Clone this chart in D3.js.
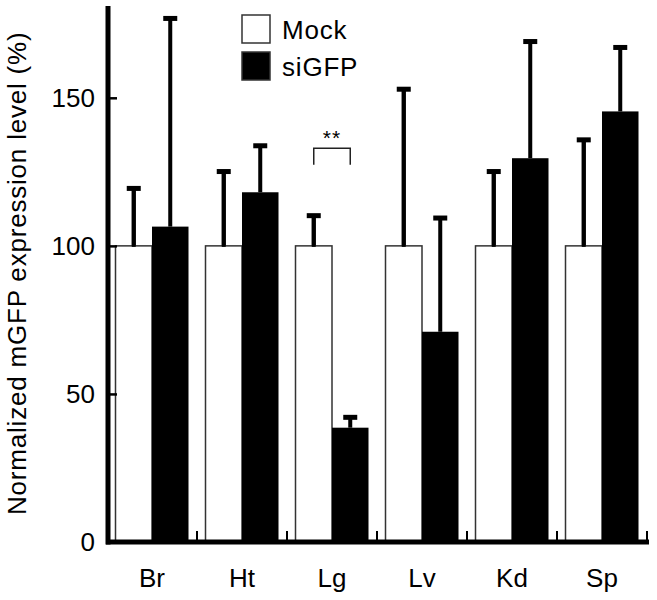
<!DOCTYPE html>
<html>
<head>
<meta charset="utf-8">
<script src="https://cdn.jsdelivr.net/npm/d3@7"></script>
<style>
  body { margin: 0; background: #fff; }
  svg { font-family: 'Liberation Sans', Arial, sans-serif; }
</style>
</head>
<body>
<svg id="chart" width="657" height="600"></svg>
<script>
// tissues and measured values (mock is the 100% reference)
const tissues = ['Br', 'Ht', 'Lg', 'Lv', 'Kd', 'Sp'];
const groups = ['Mock', 'siGFP'];
const mockMean = [100, 100, 100, 100, 100, 100];
const mockErr = [119.4, 125.1, 110.2, 152.9, 125.1, 135.8];
const sigfpMean = [106.5, 118.1, 38.6, 71.0, 129.6, 145.4];
const sigfpErr = [176.8, 133.8, 42.1, 109.4, 169.0, 167.0];
const yTicks = [0, 50, 100, 150];
const significance = [{ tissue: 'Lg', label: '**', top: 133, bottom: 127.4 }];

const svg = d3.select('#chart');

const x = d3.scaleBand().domain(tissues).range([107, 647]);
const x1 = d3.scaleBand().domain(groups).range([8.5, x.bandwidth() - 8.5]);
const y = d3.scaleLinear().domain([0, 181]).range([542, 6]);

const rows = tissues.map((t, i) => ({
  tissue: t,
  values: [
    { group: 'Mock', mean: mockMean[i], err: mockErr[i] },
    { group: 'siGFP', mean: sigfpMean[i], err: sigfpErr[i] }
  ]
}));

const barG = svg.append('g');

const groupG = barG
  .selectAll('g')
  .data(rows)
  .join('g')
  .attr('transform', (d) => `translate(${x(d.tissue)}, 0)`);

// error bars (drawn first so bars cover the stem base)
groupG
  .selectAll('rect.stem')
  .data((d) => d.values)
  .join('rect')
  .attr('class', 'stem')
  .attr('x', (d) => x1(d.group) + x1.bandwidth() / 2 - 2)
  .attr('y', (d) => y(d.err))
  .attr('width', 4)
  .attr('height', (d) => y(d.mean) - y(d.err))
  .attr('fill', '#000');

groupG
  .selectAll('rect.cap')
  .data((d) => d.values)
  .join('rect')
  .attr('class', 'cap')
  .attr('x', (d) => x1(d.group) + x1.bandwidth() / 2 - 7)
  .attr('y', (d) => y(d.err) - 2.5)
  .attr('width', 14)
  .attr('height', 5)
  .attr('fill', '#000');

groupG
  .selectAll('rect.bar')
  .data((d) => d.values)
  .join('rect')
  .attr('class', 'bar')
  .attr('x', (d) => x1(d.group))
  .attr('y', (d) => y(d.mean))
  .attr('width', x1.bandwidth())
  .attr('height', (d) => y(0) - y(d.mean))
  .attr('fill', (d) => (d.group === 'Mock' ? '#fff' : '#000'))
  .attr('stroke', (d) => (d.group === 'Mock' ? '#333' : 'none'))
  .attr('stroke-width', 1.5);

// redraw mock error stems above white bar top edge
groupG
  .selectAll('rect.stemTop')
  .data((d) => d.values.filter((v) => v.group === 'Mock'))
  .join('rect')
  .attr('class', 'stemTop')
  .attr('x', (d) => x1(d.group) + x1.bandwidth() / 2 - 2)
  .attr('y', (d) => y(d.err))
  .attr('width', 4)
  .attr('height', (d) => y(d.mean) - y(d.err) + 1)
  .attr('fill', '#000');

// significance bracket
significance.forEach((s) => {
  const xa = x(s.tissue) + x1('Mock') + x1.bandwidth() / 2;
  const xb = x(s.tissue) + x1('siGFP') + x1.bandwidth() / 2;
  svg
    .append('path')
    .attr('d', `M${xa},${y(s.bottom)}V${y(s.top)}H${xb}V${y(s.bottom)}`)
    .attr('fill', 'none')
    .attr('stroke', '#222')
    .attr('stroke-width', 1.5);
  svg
    .append('text')
    .attr('x', (xa + xb) / 2)
    .attr('y', y(s.top) - 3)
    .attr('text-anchor', 'middle')
    .attr('font-size', 21)
    .attr('letter-spacing', 1)
    .text(s.label);
});

// y axis
const yAxis = svg
  .append('g')
  .attr('transform', 'translate(108, 0)')
  .call(d3.axisLeft(y).tickValues(yTicks).tickSizeInner(-9).tickSizeOuter(0).tickPadding(13));
yAxis.select('.domain').attr('stroke', '#000').attr('stroke-width', 5).attr('d', `M0,${y(181)}V${y(0) + 2.5}`);
yAxis.selectAll('.tick line').attr('stroke', '#000').attr('stroke-width', 2.5);
yAxis.selectAll('.tick text').attr('font-size', 26).attr('fill', '#000').attr('font-family', 'Liberation Sans, Arial, sans-serif');

// x axis
const xAxis = svg
  .append('g')
  .attr('transform', `translate(0, ${y(0)})`)
  .call(d3.axisBottom(x).tickSize(0).tickPadding(27));
xAxis.select('.domain').attr('stroke', '#000').attr('stroke-width', 5).attr('d', `M${106},0H${x.range()[1] + 2}`);
xAxis.selectAll('.tick text').attr('font-size', 26).attr('fill', '#000').attr('font-family', 'Liberation Sans, Arial, sans-serif');

// small upward ticks at group boundaries
svg
  .append('g')
  .selectAll('line')
  .data(tissues)
  .join('line')
  .attr('x1', (d) => x(d) + x.bandwidth())
  .attr('x2', (d) => x(d) + x.bandwidth())
  .attr('y1', y(0))
  .attr('y2', y(0) - 11)
  .attr('stroke', '#000')
  .attr('stroke-width', 2);

// y axis title
svg
  .append('text')
  .attr('transform', `translate(26, ${y(0) - 27}) rotate(-90)`)
  .attr('font-size', 26)
  .attr('letter-spacing', 0.8)
  .attr('text-anchor', 'start')
  .text('Normalized mGFP expression level (%)');

// legend
const legend = svg.append('g').attr('transform', 'translate(242, 15)');
const legendItems = legend
  .selectAll('g')
  .data(groups)
  .join('g')
  .attr('transform', (_, i) => `translate(0, ${i * 37})`);
legendItems
  .append('rect')
  .attr('width', 28)
  .attr('height', 28)
  .attr('fill', (d) => (d === 'Mock' ? '#fff' : '#000'))
  .attr('stroke', '#333')
  .attr('stroke-width', 1.5);
legendItems
  .append('text')
  .attr('x', 40)
  .attr('y', 24)
  .attr('font-size', 26)
  .attr('letter-spacing', 0.8)
  .text((d) => d);
</script>
</body>
</html>
